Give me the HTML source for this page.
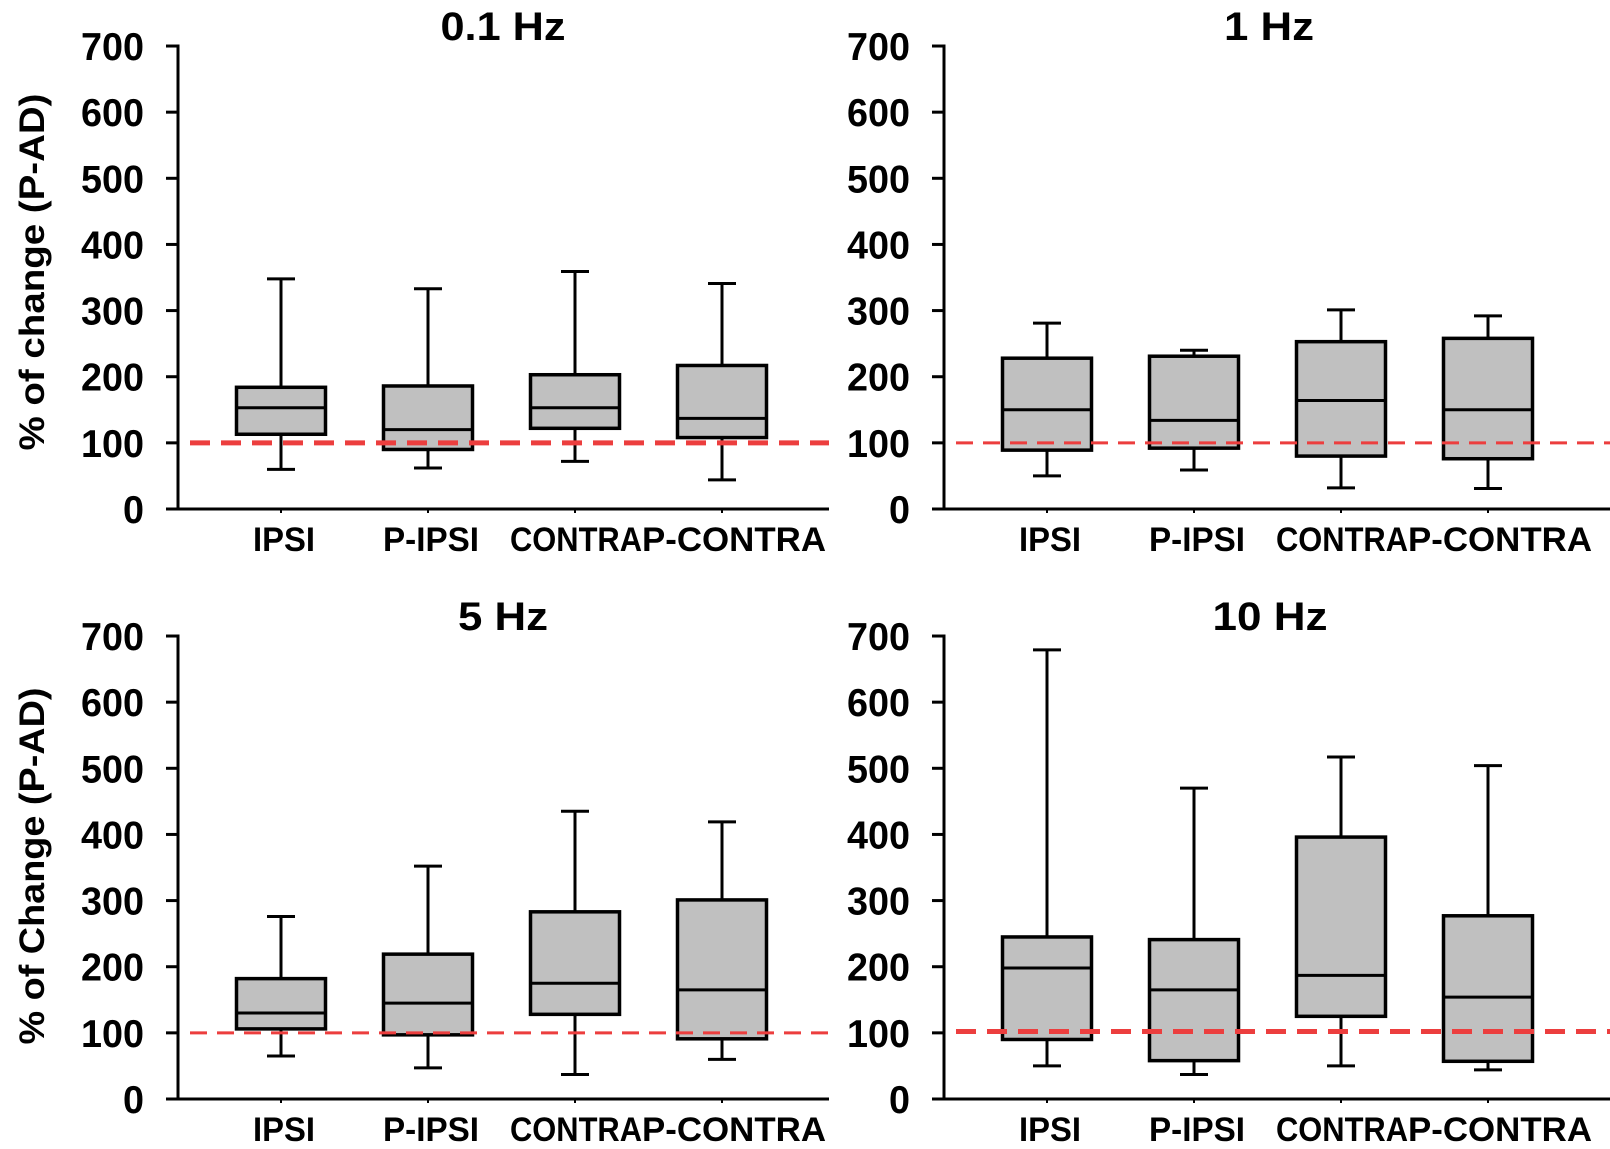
<!DOCTYPE html>
<html><head><meta charset="utf-8">
<style>
html,body{margin:0;padding:0;background:#fff;}
svg{display:block;}
text{font-family:"Liberation Sans",Arial,sans-serif;font-weight:bold;fill:#000;}
</style></head>
<body>
<svg id="fig" width="1610" height="1149" viewBox="0 0 1610 1149" xmlns="http://www.w3.org/2000/svg"></svg>
<script>
// Shared data
const categories = ["IPSI", "P-IPSI", "CONTRA", "P-CONTRA"];
const yTicks = [0, 100, 200, 300, 400, 500, 600, 700];
const panelTitles = ["0.1 Hz", "1 Hz", "5 Hz", "10 Hz"];
const refLevels = [100, 100, 100, 102];
// [min, q1, median, q3, max] per category
const p01Min = [60, 62, 72, 44];
const p01Q1 = [113, 90, 122, 108];
const p01Med = [153, 120, 153, 137];
const p01Q3 = [184, 186, 203, 217];
const p01Max = [348, 333, 359, 341];

const p1Min = [50, 59, 32, 31];
const p1Q1 = [89, 92, 80, 76];
const p1Med = [150, 134, 164, 150];
const p1Q3 = [228, 231, 253, 258];
const p1Max = [281, 240, 301, 292];

const p5Min = [65, 47, 37, 60];
const p5Q1 = [106, 97, 128, 91];
const p5Med = [130, 145, 175, 165];
const p5Q3 = [182, 219, 283, 301];
const p5Max = [276, 352, 435, 419];

const p10Min = [50, 37, 50, 44];
const p10Q1 = [90, 58, 125, 57];
const p10Med = [198, 165, 187, 154];
const p10Q3 = [245, 241, 396, 277];
const p10Max = [679, 470, 517, 504];

const NS = "http://www.w3.org/2000/svg";
const svg = document.getElementById("fig");
function mk(tag, attrs, parent) {
  const e = document.createElementNS(NS, tag);
  for (const k in attrs) e.setAttribute(k, attrs[k]);
  (parent || svg).appendChild(e);
  return e;
}

const panels = [
  {x0: 178, x1: 829, y0: 509, title: panelTitles[0], tx: 503, ty: 40, tl: 125, ylab: "% of change (P-AD)", lcx: 33, lcy: 272, thick: true,
   mn: p01Min, q1: p01Q1, md: p01Med, q3: p01Q3, mx: p01Max, ref: refLevels[0]},
  {x0: 944, x1: 1610, y0: 509, title: panelTitles[1], tx: 1269, ty: 40, tl: 90, ylab: null, thick: false,
   mn: p1Min, q1: p1Q1, md: p1Med, q3: p1Q3, mx: p1Max, ref: refLevels[1]},
  {x0: 178, x1: 829, y0: 1099, title: panelTitles[2], tx: 503, ty: 630, tl: 90, ylab: "% of Change (P-AD)", lcx: 33, lcy: 866, thick: false,
   mn: p5Min, q1: p5Q1, md: p5Med, q3: p5Q3, mx: p5Max, ref: refLevels[2]},
  {x0: 944, x1: 1610, y0: 1099, title: panelTitles[3], tx: 1270, ty: 630, tl: 115, ylab: null, thick: true,
   mn: p10Min, q1: p10Q1, md: p10Med, q3: p10Q3, mx: p10Max, ref: refLevels[3]}
];
const labelWidths = [62, 96, 132, 184];
const labelShift = [3, 3, 1, 12];

panels.forEach((p, pi) => {
  const g = mk("g", {});
  
  
  const yS = v => p.y0 - v * 0.6614;
  const xS = i => p.x0 + 103 + i * 147;

  const t = mk("text", {x: p.tx, y: p.ty, "text-anchor": "middle", "font-size": 40, textLength: p.tl, lengthAdjust: "spacingAndGlyphs"}, g);
  t.textContent = p.title;
  
  

  if (p.ylab) {
    const yl = mk("text", {x: 0, y: 0, "text-anchor": "middle", "font-size": 35, textLength: 357, lengthAdjust: "spacingAndGlyphs",
      transform: `translate(${p.lcx + 11},${p.lcy}) rotate(-90)`}, g);
    yl.textContent = p.ylab;
    
    
  }

  const ya = mk("line", {x1: p.x0, y1: yS(700) - 1.5, x2: p.x0, y2: yS(0) + 1.5, stroke: "#000", "stroke-width": 3}, g);
  
  
  const xa = mk("line", {x1: p.x0 - 12, y1: yS(0), x2: p.x1, y2: yS(0), stroke: "#000", "stroke-width": 3}, g);
  
  

  yTicks.forEach(v => {
    const tk = mk("line", {x1: p.x0 - 12, y1: yS(v), x2: p.x0, y2: yS(v), stroke: "#000", "stroke-width": 3}, g);
    
    
    const tl = mk("text", {x: p.x0 - 34, y: yS(v) + 14, "text-anchor": "end", "font-size": 39, textLength: String(v).length * 21, lengthAdjust: "spacingAndGlyphs"}, g);
    tl.textContent = v;
    
    
  });

  categories.forEach((c, i) => {
    const cx = xS(i);
    const xt = mk("line", {x1: cx, y1: yS(0), x2: cx, y2: yS(0) + 4, stroke: "#000", "stroke-width": 2}, g);
    
    
    const lab = mk("text", {x: cx + labelShift[i], y: p.y0 + 42, "text-anchor": "middle", "font-size": 34, textLength: labelWidths[i], lengthAdjust: "spacingAndGlyphs"}, g);
    lab.textContent = c;
    
    

    const bg = mk("g", {}, g);
    
    
    const hw = 44.5, cw = 14;
    mk("line", {x1: cx, y1: yS(p.mx[i]), x2: cx, y2: yS(p.q3[i]), stroke: "#000", "stroke-width": 3}, bg);
    mk("line", {x1: cx, y1: yS(p.q1[i]), x2: cx, y2: yS(p.mn[i]), stroke: "#000", "stroke-width": 3}, bg);
    mk("line", {x1: cx - cw, y1: yS(p.mx[i]), x2: cx + cw, y2: yS(p.mx[i]), stroke: "#000", "stroke-width": 3}, bg);
    mk("line", {x1: cx - cw, y1: yS(p.mn[i]), x2: cx + cw, y2: yS(p.mn[i]), stroke: "#000", "stroke-width": 3}, bg);
    mk("rect", {x: cx - hw, y: yS(p.q3[i]), width: hw * 2, height: yS(p.q1[i]) - yS(p.q3[i]), fill: "#c0c0c0", stroke: "#000", "stroke-width": 3.5}, bg);
    mk("line", {x1: cx - hw, y1: yS(p.md[i]), x2: cx + hw, y2: yS(p.md[i]), stroke: "#000", "stroke-width": 3}, bg);
  });

  const rl = mk("line", {x1: p.x0 + 12, y1: yS(p.ref), x2: p.x1, y2: yS(p.ref), stroke: "#ec3e3e",
    "stroke-width": p.thick ? 5 : 3, "stroke-dasharray": p.thick ? "20 11" : "17 10"}, g);
  
  
});
</script>
</body></html>
